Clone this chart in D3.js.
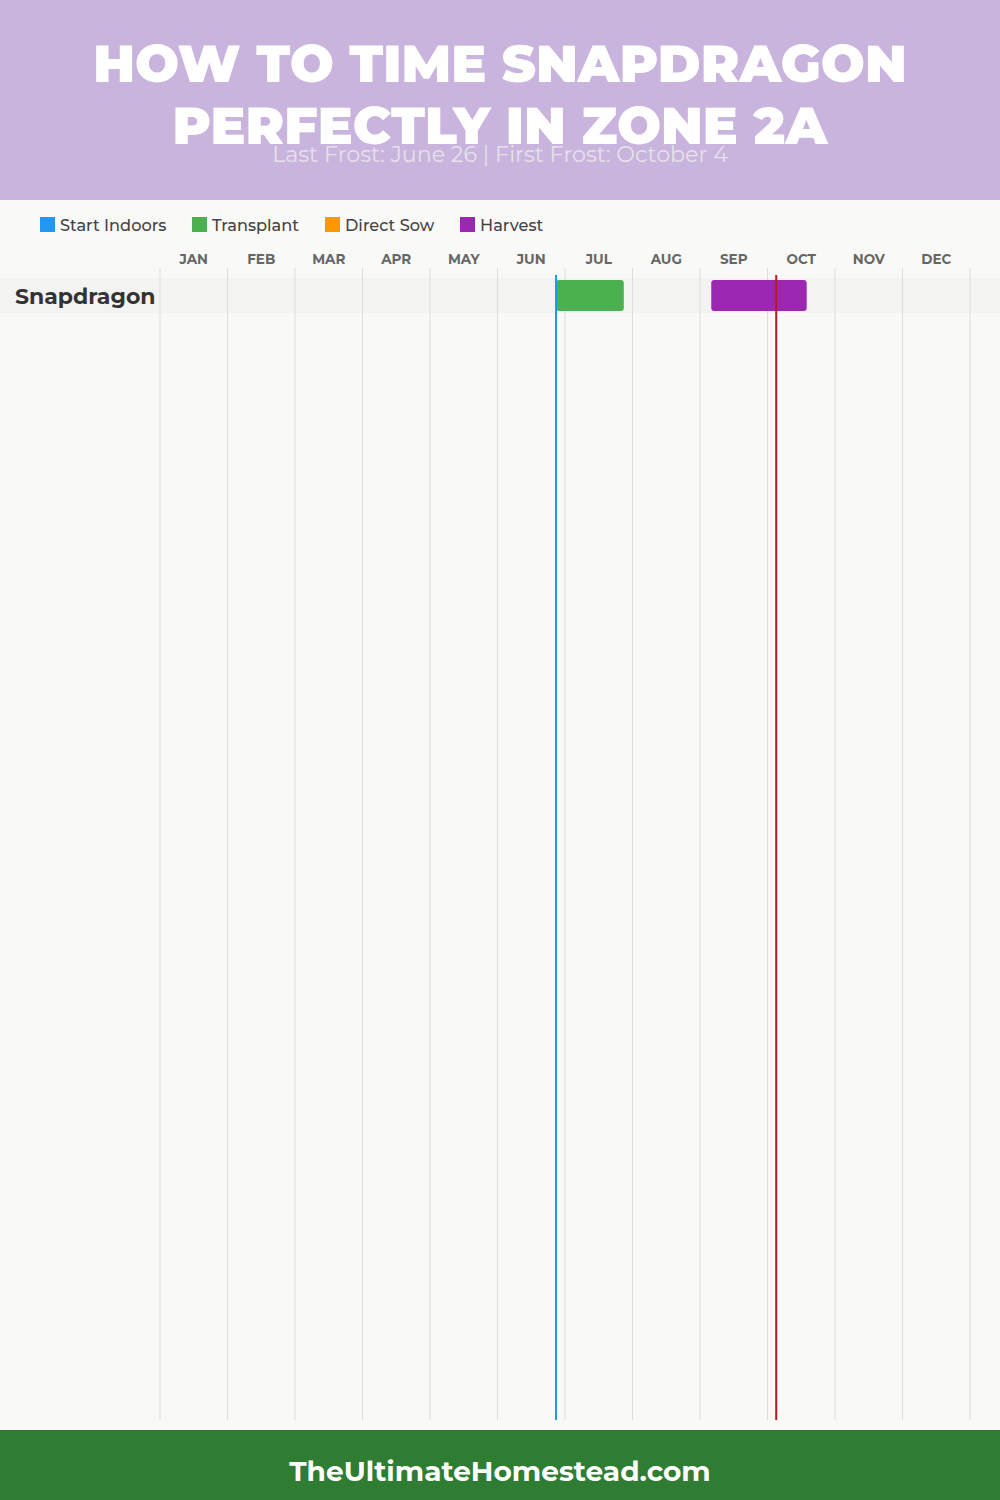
<!DOCTYPE html>
<html>
<head>
<meta charset="utf-8">
<script src="https://cdn.jsdelivr.net/npm/d3@7"></script>
<style>
  body { margin: 0; background: #f9f9f8; }
  svg { display: block; }
</style>
</head>
<body>
<div id="chart"></div>
<script>
// chart data
var months = ["JAN", "FEB", "MAR", "APR", "MAY", "JUN", "JUL", "AUG", "SEP", "OCT", "NOV", "DEC"];
var monthDays = [31, 28, 31, 30, 31, 30, 31, 31, 30, 31, 30, 31];
var crops = ["Snapdragon"];
var legendNames = ["Start Indoors", "Transplant", "Direct Sow", "Harvest"];
var legendColors = ["#2196f3", "#4caf50", "#ff9800", "#9c27b0"];
// [crop, stage, start [month, day], end [month, day]]
var tasks = [
    ["Snapdragon", "Transplant", [6, 26], [7, 27]],
    ["Snapdragon", "Harvest", [9, 5], [10, 18]]
];
var lastFrost = [6, 26];
var firstFrost = [10, 4];

var W = 1000, H = 1500;
var margin = { left: 160, right: 30 };
var font = "Montserrat, Inter, 'DejaVu Sans', sans-serif";

// month + day -> fractional month position
function pos(md) { return (md[0] - 1) + md[1] / monthDays[md[0] - 1]; }

var svg = d3.select("#chart")
    .append("svg")
    .attr("width", W)
    .attr("height", H)
    .style("font-family", font);

svg.append("rect").attr("width", W).attr("height", H).attr("fill", "#f9f9f8");

// header
svg.append("rect").attr("width", W).attr("height", 200).attr("fill", "#c9b4dd");
svg.append("text")
    .attr("x", W / 2).attr("y", 82)
    .attr("text-anchor", "middle")
    .attr("fill", "#fff")
    .style("font-weight", 900)
    .style("font-size", "52px")
    .text("HOW TO TIME SNAPDRAGON");
svg.append("text")
    .attr("x", W / 2).attr("y", 144)
    .attr("text-anchor", "middle")
    .attr("fill", "#fff")
    .style("font-weight", 900)
    .style("font-size", "52px")
    .text("PERFECTLY IN ZONE 2A");
svg.append("text")
    .attr("x", W / 2).attr("y", 162)
    .attr("text-anchor", "middle")
    .attr("fill", "#e6e1ea")
    .style("font-weight", 400)
    .style("font-size", "22.2px")
    .text("Last Frost: June 26 | First Frost: October 4");

// legend
var legendX = [40, 192, 325, 460];
var lg = svg.selectAll(".legend")
    .data(legendNames)
    .enter().append("g")
    .attr("class", "legend")
    .attr("transform", function (d, i) { return "translate(" + legendX[i] + ",217)"; });
lg.append("rect")
    .attr("width", 15).attr("height", 15)
    .attr("fill", function (d, i) { return legendColors[i]; });
lg.append("text")
    .attr("x", 20).attr("y", 14)
    .attr("fill", "#444")
    .style("font-weight", 500)
    .style("font-size", "16.2px")
    .text(function (d) { return d; });

// scales
var x = d3.scaleLinear()
    .domain([0, 12])
    .range([margin.left, W - margin.right]);
var color = d3.scaleOrdinal().domain(legendNames).range(legendColors);
var y = d3.scaleBand()
    .domain(crops)
    .range([278, 278 + 35 * crops.length]);

// row band
svg.selectAll(".rowbg")
    .data(crops)
    .enter().append("rect")
    .attr("x", 0).attr("width", W)
    .attr("y", function (d) { return y(d); })
    .attr("height", y.bandwidth())
    .attr("fill", "#f3f3f2");

// month grid
svg.selectAll(".grid")
    .data(d3.range(13))
    .enter().append("line")
    .attr("x1", function (d) { return x(d); })
    .attr("x2", function (d) { return x(d); })
    .attr("y1", 268).attr("y2", 1420)
    .attr("stroke", "#ddd")
    .attr("stroke-width", 1);

// month labels
svg.selectAll(".month")
    .data(months)
    .enter().append("text")
    .attr("x", function (d, i) { return x(i + 0.5); })
    .attr("y", 264)
    .attr("text-anchor", "middle")
    .attr("fill", "#666")
    .style("font-weight", 700)
    .style("font-size", "13.5px")
    .text(function (d) { return d; });

// crop labels
svg.selectAll(".crop")
    .data(crops)
    .enter().append("text")
    .attr("x", 15)
    .attr("y", function (d) { return y(d) + y.bandwidth() / 2 + 8; })
    .attr("fill", "#333")
    .style("font-weight", 700)
    .style("font-size", "22px")
    .text(function (d) { return d; });

// task bars
svg.selectAll(".bar")
    .data(tasks)
    .enter().append("rect")
    .attr("x", function (d) { return x(pos(d[2])); })
    .attr("width", function (d) { return x(pos(d[3])) - x(pos(d[2])); })
    .attr("y", function (d) { return y(d[0]) + 2; })
    .attr("height", y.bandwidth() - 4)
    .attr("rx", 3)
    .attr("fill", function (d) { return color(d[1]); });

// frost lines
svg.append("line")
    .attr("x1", x(pos(lastFrost))).attr("x2", x(pos(lastFrost)))
    .attr("y1", 275).attr("y2", 1420)
    .attr("stroke", "#2196f3").attr("stroke-width", 2);
svg.append("line")
    .attr("x1", x(pos(firstFrost))).attr("x2", x(pos(firstFrost)))
    .attr("y1", 275).attr("y2", 1420)
    .attr("stroke", "#b71c1c").attr("stroke-width", 2);

// footer
svg.append("rect").attr("y", 1430).attr("width", W).attr("height", 70).attr("fill", "#2e7d32");
svg.append("text")
    .attr("x", W / 2).attr("y", 1481)
    .attr("text-anchor", "middle")
    .attr("fill", "#fff")
    .style("font-weight", 700)
    .style("font-size", "28px")
    .text("TheUltimateHomestead.com");
</script>
</body>
</html>
